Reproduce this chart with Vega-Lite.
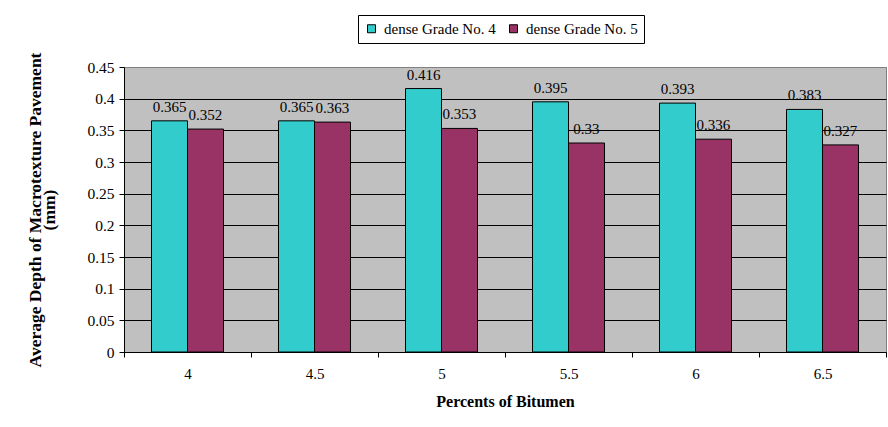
{
  "$schema": "https://vega.github.io/schema/vega-lite/v6.json",
  "width": 762,
  "height": 285,
  "autosize": {"type": "none"},
  "padding": {"left": 124, "top": 67, "right": 2, "bottom": 75},
  "background": "white",
  "config": {
    "font": "Liberation Serif",
    "view": {"fill": "#C0C0C0", "stroke": "#808080", "strokeWidth": 1}
  },
  "data": {
    "values": [
      {"bitumen": "4", "series": "dense Grade No. 4", "value": 0.365},
      {"bitumen": "4", "series": "dense Grade No. 5", "value": 0.352},
      {"bitumen": "4.5", "series": "dense Grade No. 4", "value": 0.365},
      {"bitumen": "4.5", "series": "dense Grade No. 5", "value": 0.363},
      {"bitumen": "5", "series": "dense Grade No. 4", "value": 0.416},
      {"bitumen": "5", "series": "dense Grade No. 5", "value": 0.353},
      {"bitumen": "5.5", "series": "dense Grade No. 4", "value": 0.395},
      {"bitumen": "5.5", "series": "dense Grade No. 5", "value": 0.33},
      {"bitumen": "6", "series": "dense Grade No. 4", "value": 0.393},
      {"bitumen": "6", "series": "dense Grade No. 5", "value": 0.336},
      {"bitumen": "6.5", "series": "dense Grade No. 4", "value": 0.383},
      {"bitumen": "6.5", "series": "dense Grade No. 5", "value": 0.327}
    ]
  },
  "encoding": {
    "x": {
      "field": "bitumen",
      "type": "ordinal",
      "sort": null,
      "scale": {"paddingInner": 0, "paddingOuter": 0},
      "axis": {
        "title": "Percents of Bitumen",
        "titleFontSize": 16,
        "titleFontWeight": "bold",
        "titleColor": "black",
        "titlePadding": 12,
        "labelAngle": 0,
        "labelFontSize": 15,
        "labelColor": "black",
        "labelPadding": 9,
        "tickBand": "extent",
        "tickSize": 5,
        "tickColor": "black",
        "domainColor": "black",
        "grid": false
      }
    },
    "xOffset": {
      "field": "series",
      "type": "nominal",
      "sort": ["dense Grade No. 4", "dense Grade No. 5"],
      "scale": {"paddingInner": 0, "paddingOuter": 0.764}
    },
    "y": {
      "field": "value",
      "type": "quantitative",
      "scale": {"domain": [0, 0.45], "nice": false, "zero": true},
      "axis": {
        "title": ["Average Depth of Macrotexture Pavement", "(mm)"],
        "titleFontSize": 17.5,
        "titleFontWeight": "bold",
        "titleColor": "black",
        "titleLineHeight": 14,
        "titlePadding": 28,
        "values": [0, 0.05, 0.1, 0.15, 0.2, 0.25, 0.3, 0.35, 0.4, 0.45],
        "format": "~g",
        "labelFontSize": 15.5,
        "labelColor": "black",
        "labelPadding": 5,
        "tickSize": 5,
        "tickColor": "black",
        "domainColor": "black",
        "grid": true,
        "gridColor": {"condition": {"test": "datum.value >= 0.449", "value": "#808080"}, "value": "black"},
        "gridOpacity": 1
      }
    }
  },
  "layer": [
    {
      "mark": {"type": "bar", "stroke": "black", "strokeWidth": 1},
      "encoding": {
        "color": {
          "field": "series",
          "type": "nominal",
          "sort": ["dense Grade No. 4", "dense Grade No. 5"],
          "scale": {"domain": ["dense Grade No. 4", "dense Grade No. 5"], "range": ["#33CCCC", "#993366"]},
          "legend": {
            "title": null,
            "orient": "none",
            "legendX": 234,
            "legendY": -52,
            "direction": "horizontal",
            "strokeColor": "black",
            "fillColor": "white",
            "padding": 6,
            "symbolType": "square",
            "symbolSize": 64,
            "symbolStrokeColor": "black",
            "symbolStrokeWidth": 1,
            "symbolOpacity": 1,
            "labelFontSize": 15,
            "labelColor": "black",
            "labelOffset": 5,
            "columnPadding": 10
          }
        }
      }
    },
    {
      "mark": {"type": "text", "dy": -9, "baseline": "alphabetic", "fontSize": 15, "color": "black"},
      "encoding": {
        "text": {"field": "value", "type": "quantitative", "format": "~g"}
      }
    }
  ]
}
